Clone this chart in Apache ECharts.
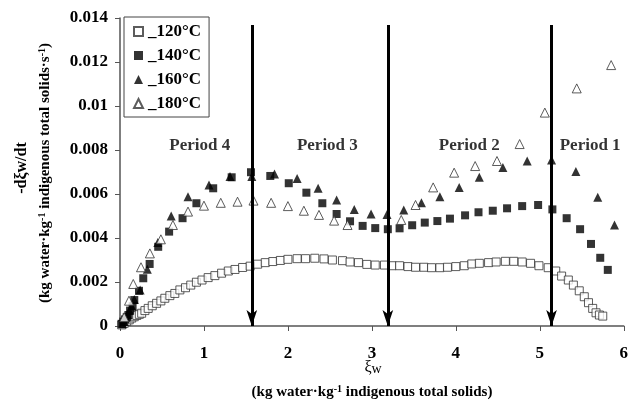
<!DOCTYPE html>
<html>
<head>
<meta charset="utf-8">
<script src="https://cdn.jsdelivr.net/npm/echarts@6/dist/echarts.min.js"></script>
<style>
html,body{margin:0;padding:0;background:#fff;}
#chart{width:631px;height:405px;}
</style>
</head>
<body>
<div id="chart"></div>
<script>
// ---- data (xi_w, -dxi_w/dt) ----
const s120 = [[0.02,0.00005],[0.05,0.00012],[0.08,0.0002],[0.11,0.00028],[0.14,0.00036],[0.17,0.00042],[0.2,0.00048],[0.23,0.00053],
  [0.258,0.00058],[0.297,0.0007],[0.336,0.0008],[0.384,0.00092],[0.436,0.00103],[0.487,0.00114],[0.534,0.00126],[0.594,0.00138],
  [0.653,0.00148],[0.713,0.00164],[0.78,0.00174],[0.843,0.00186],[0.91,0.00199],[0.977,0.00209],[1.05,0.0022],[1.13,0.00229],
  [1.21,0.0024],[1.29,0.0025],[1.37,0.00257],[1.46,0.00266],[1.55,0.00272],[1.64,0.00281],[1.73,0.00288],[1.82,0.00293],
  [1.91,0.00298],[2.0,0.00303],[2.11,0.00306],[2.21,0.00306],[2.32,0.00308],[2.43,0.00305],[2.53,0.003],[2.65,0.00297],
  [2.74,0.00291],[2.84,0.00288],[2.94,0.0028],[3.04,0.00277],[3.15,0.00277],[3.24,0.00274],[3.33,0.00274],[3.43,0.0027],
  [3.52,0.00267],[3.62,0.00267],[3.71,0.00265],[3.81,0.00265],[3.9,0.00267],[4.0,0.0027],[4.1,0.00274],[4.19,0.00282],
  [4.28,0.00285],[4.39,0.00288],[4.48,0.00291],[4.59,0.00294],[4.69,0.00294],[4.79,0.00291],[4.89,0.00285],[4.99,0.00274],
  [5.1,0.00265],[5.19,0.0025],[5.26,0.00227],[5.34,0.00209],[5.4,0.00186],[5.47,0.0016],[5.53,0.00133],[5.58,0.00106],
  [5.63,0.0008],[5.67,0.0006],[5.71,0.0005],[5.75,0.00045]];
const s140 = [[0.02,0.0001],[0.04,0.0002],[0.06,0.0003],[0.08,0.0004],[0.1,0.0005],[0.12,0.0007],[0.15,0.0009],
  [0.17,0.00118],[0.226,0.0016],[0.277,0.00217],[0.353,0.00282],[0.455,0.0036],[0.585,0.00429],[0.745,0.0049],[0.91,0.00558],
  [1.11,0.00626],[1.33,0.00676],[1.56,0.00699],[1.79,0.00682],[2.01,0.00649],[2.22,0.00606],[2.41,0.00558],[2.58,0.00509],
  [2.74,0.00476],[2.89,0.00455],[3.04,0.00445],[3.19,0.0044],[3.33,0.00444],[3.48,0.00458],[3.63,0.0047],[3.78,0.00477],
  [3.93,0.00488],[4.11,0.00503],[4.27,0.00517],[4.44,0.00524],[4.61,0.00535],[4.79,0.00545],[4.98,0.0055],[5.15,0.0053],
  [5.32,0.0049],[5.48,0.0044],[5.61,0.00373],[5.72,0.0031],[5.81,0.00255]];
const s160 = [[0.03,0.0001],[0.05,0.0002],[0.07,0.0004],[0.09,0.0005],[0.11,0.0007],[0.14,0.0009],[0.17,0.0012],
  [0.24,0.00164],[0.325,0.00258],[0.45,0.00379],[0.61,0.005],[0.81,0.00588],[1.06,0.00641],[1.31,0.0068],[1.57,0.0068],
  [1.84,0.00691],[2.11,0.00671],[2.36,0.00626],[2.58,0.00573],[2.79,0.0053],[2.99,0.00509],[3.18,0.00507],[3.38,0.00527],
  [3.59,0.0056],[3.81,0.00588],[4.04,0.00629],[4.28,0.00676],[4.56,0.00721],[4.85,0.0075],[5.14,0.00755],[5.43,0.00702],
  [5.69,0.00585],[5.89,0.00459]];
const s180 = [[0.05,0.0004],[0.107,0.00115],[0.158,0.00191],[0.25,0.00267],[0.356,0.0033],[0.487,0.00394],[0.63,0.00459],
  [0.81,0.0052],[1.0,0.00547],[1.2,0.0056],[1.4,0.00565],[1.59,0.0057],[1.8,0.0056],[2.0,0.00545],[2.19,0.00524],[2.37,0.00505],
  [2.55,0.00479],[2.71,0.00459],[3.35,0.00482],[3.52,0.0055],[3.73,0.0063],[3.98,0.00697],[4.23,0.00727],[4.49,0.0075],
  [4.76,0.00827],[5.06,0.0097],[5.44,0.0108],[5.85,0.01186]];
const seriesNames = ['_120°C','_140°C','_160°C','_180°C'];
const periodBoundaries = [1.57, 3.19, 5.14];
const arrowTop = 0.01368;
const periodLabels = ['Period 4','Period 3','Period 2','Period 1'];
const periodLabelX = [0.95, 2.47, 4.16, 5.6];
const periodLabelY = 0.0082;
const xMin = 0, xMax = 6, xStep = 1;
const yMin = 0, yMax = 0.014, yStep = 0.002;

// ---- chart ----
const FONT = 'Liberation Serif';
const chart = echarts.init(document.getElementById('chart'), null, {renderer:'canvas'});
const openStyle = {color:'#fff', borderColor:'#333', borderWidth:1};
const fillStyle = {color:'#000'};
function sc(name, data, symbol, size, style){
  return {name, type:'scatter', data, symbol, symbolSize:size, itemStyle:style, z:3,
    emphasis:{disabled:true}};
}
const option = {
  animation:false,
  backgroundColor:'#fff',
  textStyle:{fontFamily:FONT},
  grid:{left:120, right:5, top:18, bottom:79, containLabel:false},
  legend:{
    data:seriesNames, orient:'vertical', left:124, top:17,
    backgroundColor:'#fff', borderColor:'#444', borderWidth:1,
    padding:[6,8,5,9], itemGap:7, itemWidth:9, itemHeight:9, itemStyle:{},
    textStyle:{fontFamily:FONT, fontWeight:'bold', fontSize:17, color:'#000'},
    selectedMode:false
  },
  xAxis:{
    type:'value', min:xMin, max:xMax, interval:xStep,
    axisLine:{show:true, lineStyle:{color:'#555', width:1.5}},
    axisTick:{show:true, inside:false, length:5, lineStyle:{color:'#555'}},
    axisLabel:{margin:19, fontFamily:FONT, fontWeight:'bold', fontSize:17, color:'#000'},
    splitLine:{show:false}
  },
  yAxis:{
    type:'value', min:yMin, max:yMax, interval:yStep,
    axisLine:{show:true, lineStyle:{color:'#555', width:1.5}},
    axisTick:{show:true, inside:false, length:5, lineStyle:{color:'#555'}},
    axisLabel:{margin:12, fontFamily:FONT, fontWeight:'bold', fontSize:17, color:'#000'},
    splitLine:{show:false}
  },
  series:[
    sc(seriesNames[0], s120, 'rect', 8, openStyle),
    sc(seriesNames[1], s140, 'rect', 8, fillStyle),
    sc(seriesNames[2], s160, 'triangle', 9, fillStyle),
    sc(seriesNames[3], s180, 'triangle', 9, openStyle),
    {
      name:'periods', type:'scatter', symbolSize:0, z:2, silent:true,
      data: periodLabels.map((t,i)=>({name:t, value:[periodLabelX[i], periodLabelY]})),
      label:{show:true, position:'inside', formatter:p=>p.name, fontFamily:FONT, fontWeight:'bold', fontSize:17, color:'#000'},
      markLine:{
        silent:true, symbol:['none','arrow'], symbolSize:[8,16], animation:false,
        label:{show:false},
        lineStyle:{color:'#000', width:3, type:'solid'},
        emphasis:{disabled:true},
        data: periodBoundaries.map(x=>[{coord:[x, arrowTop]},{coord:[x, 0]}])
      }
    }
  ],
  graphic:[
    {type:'text', x:22, y:168, rotation:Math.PI/2, style:{
      text:'-dξw/dt', font:'bold 16px '+FONT, fill:'#000', align:'center', verticalAlign:'middle'}},
    {type:'text', x:45, y:173, rotation:Math.PI/2, style:{
      text:'{b|(kg water·kg}{s|-1}{b| indigenous total solids·s}{s|-1}{b|)}',
      align:'center', verticalAlign:'middle', fill:'#000',
      rich:{b:{font:'bold 15px '+FONT, fill:'#000'}, s:{font:'bold 10px '+FONT, fill:'#000', verticalAlign:'top'}}}},
    {type:'text', x:373, y:368, style:{
      text:'{r|ξ}{w|w}', align:'center', verticalAlign:'middle', fill:'#000',
      rich:{r:{font:'16px '+FONT, fill:'#000'}, w:{font:'14px '+FONT, fill:'#000', verticalAlign:'bottom'}}}},
    {type:'text', x:372, y:392, style:{
      text:'{b|(kg water·kg}{s|-1}{b| indigenous total solids)}',
      align:'center', verticalAlign:'middle', fill:'#000',
      rich:{b:{font:'bold 15px '+FONT, fill:'#000'}, s:{font:'bold 10px '+FONT, fill:'#000', verticalAlign:'top'}}}}
  ]
};
chart.setOption(option);
</script>
</body>
</html>
